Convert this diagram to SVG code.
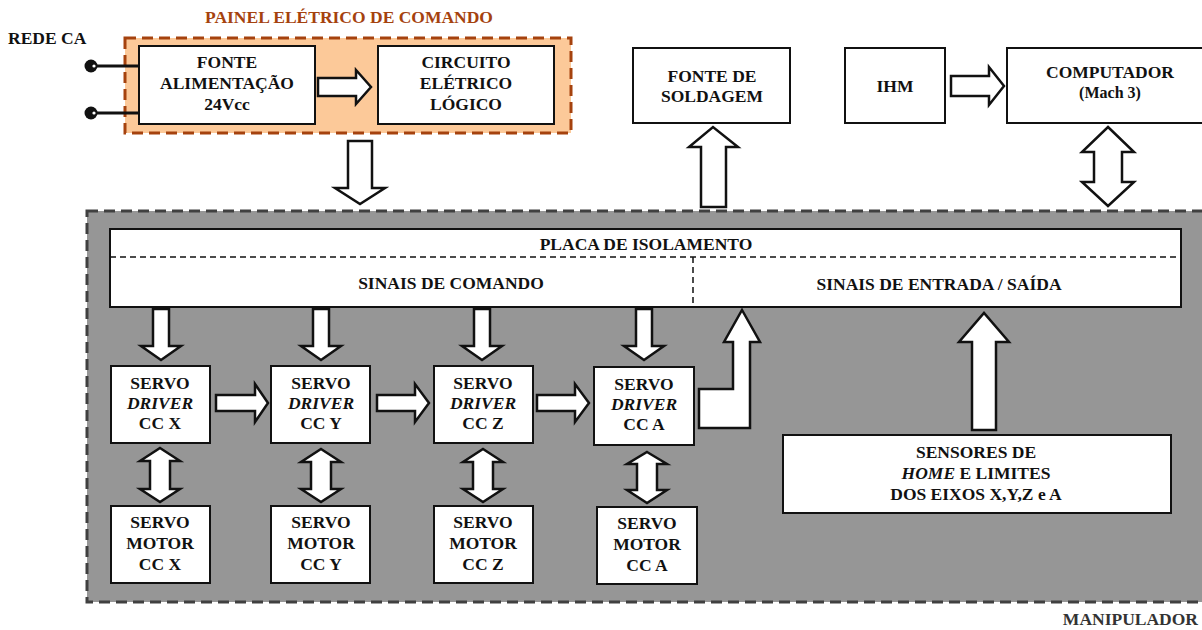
<svg xmlns="http://www.w3.org/2000/svg" width="1202" height="630" viewBox="0 0 1202 630">
<style>
text{font-family:"Liberation Serif","Times New Roman",serif;font-weight:bold;font-size:17.5px;fill:#111;text-anchor:middle}
.box{fill:#fff;stroke:#111;stroke-width:2}
.arr{fill:#fff;stroke:#111;stroke-width:2.5;stroke-linejoin:miter}
.it{font-style:italic}
</style>
<rect width="1202" height="630" fill="#fff"/>

<g id="painel">
<rect x="125" y="38" width="446" height="95" fill="#FCC999" stroke="#A5420E" stroke-width="3" stroke-dasharray="11,6"/>
<text x="349" y="23" style="fill:#A5420E">PAINEL ELÉTRICO DE COMANDO</text>
</g>
<g id="rede">
<text x="8" y="44" style="text-anchor:start">REDE CA</text>
<line x1="91" y1="66" x2="139" y2="66" stroke="#111" stroke-width="3"/>
<line x1="91" y1="113" x2="139" y2="113" stroke="#111" stroke-width="3"/>
<circle cx="91" cy="66" r="6.5" fill="#111"/><circle cx="94" cy="66" r="1.6" fill="#fff"/>
<circle cx="91" cy="113" r="6.5" fill="#111"/><circle cx="94" cy="113" r="1.6" fill="#fff"/>
</g>
<g id="fonte">
<rect class="box" x="139" y="46" width="176" height="78"/>
<text x="227" y="68">FONTE</text><text x="227" y="89">ALIMENTAÇÃO</text><text x="227" y="110">24Vcc</text>
</g>
<g id="circuito">
<rect class="box" x="378" y="46" width="176" height="78"/>
<text x="466" y="68">CIRCUITO</text><text x="466" y="89">ELÉTRICO</text><text x="466" y="110">LÓGICO</text>
</g>
<g id="soldagem">
<rect class="box" x="633" y="48" width="157" height="75"/>
<text x="712" y="82">FONTE DE</text><text x="712" y="102">SOLDAGEM</text>
</g>
<g id="ihm">
<rect class="box" x="845" y="48" width="100" height="75"/>
<text x="895" y="92">IHM</text>
</g>
<g id="computador">
<rect class="box" x="1007" y="48" width="205" height="75"/>
<text x="1110" y="78">COMPUTADOR</text><text x="1110" y="98" style="font-size:16px">(Mach 3)</text>
</g>

<g id="manipulador">
<rect x="87" y="211" width="1125" height="391" fill="#969696" stroke="#404040" stroke-width="3" stroke-dasharray="11,6"/>
<text x="1198" y="625" style="text-anchor:end;fill:#333">MANIPULADOR</text>
</g>
<g id="placa">
<rect class="box" x="110" y="229" width="1071" height="78"/>
<line x1="110" y1="257" x2="1181" y2="257" stroke="#111" stroke-width="1.5" stroke-dasharray="6,4"/>
<line x1="693" y1="257" x2="693" y2="307" stroke="#111" stroke-width="1.5" stroke-dasharray="6,4"/>
<text x="646" y="250">PLACA DE ISOLAMENTO</text>
<text x="451" y="289">SINAIS DE COMANDO</text>
<text x="939" y="290">SINAIS DE ENTRADA / SAÍDA</text>
</g>

<g id="driverX"><rect class="box" x="111" y="366" width="99" height="77"/>
<text x="160" y="389">SERVO</text><text x="160" y="409" class="it">DRIVER</text><text x="160" y="429">CC X</text></g>
<g id="driverY"><rect class="box" x="271" y="366" width="99" height="77"/>
<text x="321" y="389">SERVO</text><text x="321" y="409" class="it">DRIVER</text><text x="321" y="429">CC Y</text></g>
<g id="driverZ"><rect class="box" x="434" y="366" width="99" height="77"/>
<text x="483" y="389">SERVO</text><text x="483" y="409" class="it">DRIVER</text><text x="483" y="429">CC Z</text></g>
<g id="driverA"><rect class="box" x="594" y="367" width="100" height="78"/>
<text x="644" y="390">SERVO</text><text x="644" y="410" class="it">DRIVER</text><text x="644" y="430">CC A</text></g>

<g id="motorX"><rect class="box" x="111" y="506" width="99" height="77"/>
<text x="160" y="528">SERVO</text><text x="160" y="549">MOTOR</text><text x="160" y="570">CC X</text></g>
<g id="motorY"><rect class="box" x="271" y="506" width="99" height="77"/>
<text x="321" y="528">SERVO</text><text x="321" y="549">MOTOR</text><text x="321" y="570">CC Y</text></g>
<g id="motorZ"><rect class="box" x="434" y="506" width="99" height="77"/>
<text x="483" y="528">SERVO</text><text x="483" y="549">MOTOR</text><text x="483" y="570">CC Z</text></g>
<g id="motorA"><rect class="box" x="597" y="507" width="100" height="77"/>
<text x="647" y="529">SERVO</text><text x="647" y="550">MOTOR</text><text x="647" y="571">CC A</text></g>

<g id="sensores"><rect class="box" x="783" y="435" width="388" height="78"/>
<text x="976" y="458">SENSORES DE</text>
<text x="976" y="479"><tspan class="it">HOME</tspan> E LIMITES</text>
<text x="976" y="500">DOS EIXOS X,Y,Z e A</text></g>

<g id="connectors">
<polygon class="arr" points="318,78 356,78 356,70 371,87 356,104 356,96 318,96"/>
<polygon class="arr" points="348,141 372,141 372,188 385,188 360,204 335,188 348,188"/>
<polygon class="arr" points="701,207 726,207 726,147 738,147 713,127 689,147 701,147"/>
<polygon class="arr" points="951,76 989,76 989,67 1004,86 989,105 989,96 951,96"/>
<polygon class="arr" points="1108,127 1134,152 1122,152 1122,182 1134,182 1108,206 1082,182 1094,182 1094,152 1082,152"/>

<polygon class="arr" points="153,309 169,309 169,346 181,346 161,360 141,346 153,346"/>
<polygon class="arr" points="313,309 329,309 329,346 341,346 321,360 301,346 313,346"/>
<polygon class="arr" points="474,309 490,309 490,346 502,346 482,360 462,346 474,346"/>
<polygon class="arr" points="636,309 652,309 652,346 664,346 644,360 624,346 636,346"/>

<polygon class="arr" points="216,395 255,395 255,384 268,403 255,422 255,411 216,411"/>
<polygon class="arr" points="377,395 415,395 415,384 429,403 415,422 415,411 377,411"/>
<polygon class="arr" points="537,395 575,395 575,384 589,403 575,422 575,411 537,411"/>

<polygon class="arr" points="699,428 699,389 733,389 733,342 724,342 742,310 760,342 750,342 750,428"/>
<polygon class="arr" points="972,430 996,430 996,342 1009,342 984,313 959,342 972,342"/>

<polygon class="arr" points="160,448 180,461 170,461 170,489 180,489 160,502 140,489 150,489 150,461 140,461"/>
<polygon class="arr" points="321,449 341,462 331,462 331,489 341,489 321,502 301,489 311,489 311,462 301,462"/>
<polygon class="arr" points="483,449 503,462 493,462 493,489 503,489 483,502 463,489 473,489 473,462 463,462"/>
<polygon class="arr" points="647,452 667,464 657,464 657,490 667,490 647,503 627,490 637,490 637,464 627,464"/>
</g>
</svg>
